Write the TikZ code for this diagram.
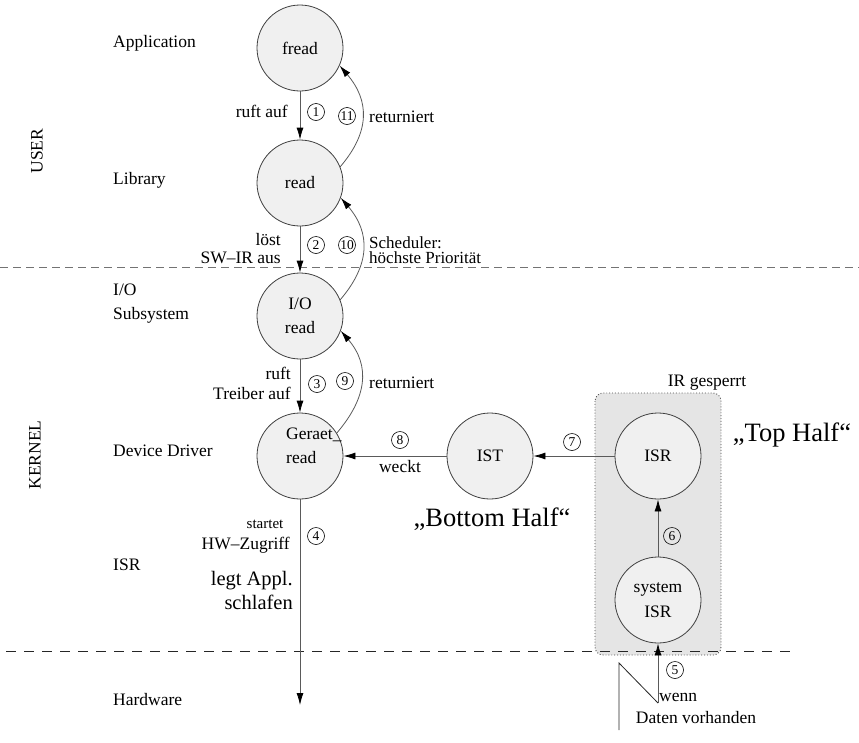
\documentclass[tikz,border=0pt]{standalone}
\usepackage{fontspec}
\setmainfont{Liberation Serif}
\usetikzlibrary{arrows.meta}
\definecolor{cfill}{HTML}{F0F0F0}
\definecolor{bfill}{HTML}{E5E5E5}
\definecolor{lgray}{HTML}{5A5A5A}
\begin{document}
\begin{tikzpicture}[x=1pt,y=-1pt,
  proc/.style={circle,draw=black!75,fill=cfill,minimum size=86pt,inner sep=0pt,line width=0.8pt,align=center,font=\fontsize{17.5}{24}\selectfont},
  num/.style={circle,draw,inner sep=0pt,minimum size=17pt,line width=0.6pt,font=\fontsize{13.5}{13.5}\selectfont},
  lbl/.style={font=\fontsize{17.5}{21}\selectfont,inner sep=0pt},
  arr/.style={draw=lgray,line width=0.8pt,-{Latex[length=12pt,width=7pt,color=black]}},
  big/.style={font=\fontsize{26.5}{30}\selectfont,inner sep=0pt},
]
\useasboundingbox (0,0) rectangle (859,742);
% grey box (IR gesperrt)
\draw[dotted,line width=0.9pt,draw=black!70,fill=bfill,rounded corners=8pt] (595,393) rectangle (721,655);
% layer separators
\coordinate (d1a) at (0,267);
\coordinate (d1b) at (859,267);
\coordinate (d2a) at (6,651);
\coordinate (d2b) at (797,651);
\draw[black!55,line width=0.7pt,dash pattern=on 8pt off 5pt] (d1a) -- (d1b);
\draw[black!85,line width=0.9pt,dash pattern=on 10pt off 8pt] (d2a) -- (d2b);

% left labels
\node[lbl,anchor=west] (lapp) at (113,43) {Application};
\node[lbl,anchor=west] (llib) at (113,180) {Library};
\node[lbl,anchor=west,align=left,font=\fontsize{17.5}{24}\selectfont] (lio) at (113,304) {I/O\\Subsystem};
\node[lbl,anchor=west] (ldd) at (113,451) {Device Driver};
\node[lbl,anchor=west] (lisr) at (113,565) {ISR};
\node[lbl,anchor=west] (lhw) at (113,700) {Hardware};
\node[lbl,rotate=90] (user) at (37,151) {USER};
\node[lbl,rotate=90] (kernel) at (35,455) {KERNEL};

% processes
\node[proc] (fread) at (300,48) {fread};
\node[proc] (read) at (300,183) {read};
\node[proc] (io) at (300,316) {I/O\\read};
\node[proc] (gr) at (300,456) {};
\node[lbl,anchor=west,align=left,font=\fontsize{17.5}{24}\selectfont] (grt) at (286,446) {Geraet\_\\read};
\node[proc] (ist) at (490,456) {IST};
\node[proc] (isr) at (658,456) {ISR};
\node[proc,font=\fontsize{17.5}{25}\selectfont] (sys) at (658,600) {system\\ISR};

% connectors
\draw[arr] (fread) -- (read);
\draw[arr] (read) -- (io);
\draw[arr] (io) -- (gr);
\coordinate (hwend) at (300,705);
\draw[arr] (gr) -- (hwend);
\draw[arr] (read.22) .. controls +(30,-35) and +(30,35) .. (fread.-24);
\draw[arr] (io.22) .. controls +(30,-35) and +(30,35) .. (read.-20);
\draw[arr] (gr.32) .. controls +(30,-35) and +(30,35) .. (io.-20);
\draw[arr] (ist) -- (gr);
\draw[arr] (isr) -- (ist);
\draw[arr] (sys) -- (isr);
\coordinate (z1) at (619,730);
\coordinate (z2) at (619,663);
\coordinate (z3) at (658,703);
\draw[black!85,line width=0.8pt] (z1) -- (z2) -- (z3);
\draw[arr] (z3) -- (sys);

% step numbers
\node[num] (n1) at (316,112) {1};
\node[num] (n11) at (347,116) {11};
\node[num] (n2) at (316,245) {2};
\node[num] (n10) at (347,245) {10};
\node[num] (n3) at (317,384) {3};
\node[num] (n9) at (345,381) {9};
\node[num] (n8) at (400,440) {8};
\node[num] (n7) at (572,442) {7};
\node[num] (n4) at (316,536) {4};
\node[num] (n6) at (672,536) {6};
\node[num] (n5) at (675,670) {5};

% connector labels
\node[lbl,anchor=east] (t1) at (288,111) {ruft auf};
\node[lbl,anchor=west] (t11) at (369,117) {returniert};
\node[lbl,anchor=east,align=right,font=\fontsize{17.5}{18}\selectfont] (t2) at (281,249) {löst\\SW–IR aus};
\node[lbl,anchor=west,align=left,font=\fontsize{17}{15.5}\selectfont] (t10) at (369,250) {Scheduler:\\höchste Priorität};
\node[lbl,anchor=east,align=right,font=\fontsize{17.5}{20}\selectfont] (t3) at (291,383) {ruft\\Treiber auf};
\node[lbl,anchor=west] (t9) at (369,383) {returniert};
\node[lbl] (t8) at (400,467) {weckt};
\node[lbl,font=\fontsize{15}{15}\selectfont] (t4a) at (265,524) {startet};
\node[lbl,anchor=east] (t4b) at (290,545) {HW–Zugriff};
\node[lbl,anchor=east,align=right,font=\fontsize{20.5}{24}\selectfont] (t4c) at (293,590) {legt Appl.\\schlafen};
\node[lbl] (irg) at (707,383) {IR gesperrt};
\node[big] (top) at (792,435) {„Top Half“};
\node[big] (bottom) at (492,519) {„Bottom Half“};
\node[lbl,anchor=west] (wenn) at (659,697) {wenn};
\node[lbl] (daten) at (696,718) {Daten vorhanden};
\end{tikzpicture}
\end{document}
